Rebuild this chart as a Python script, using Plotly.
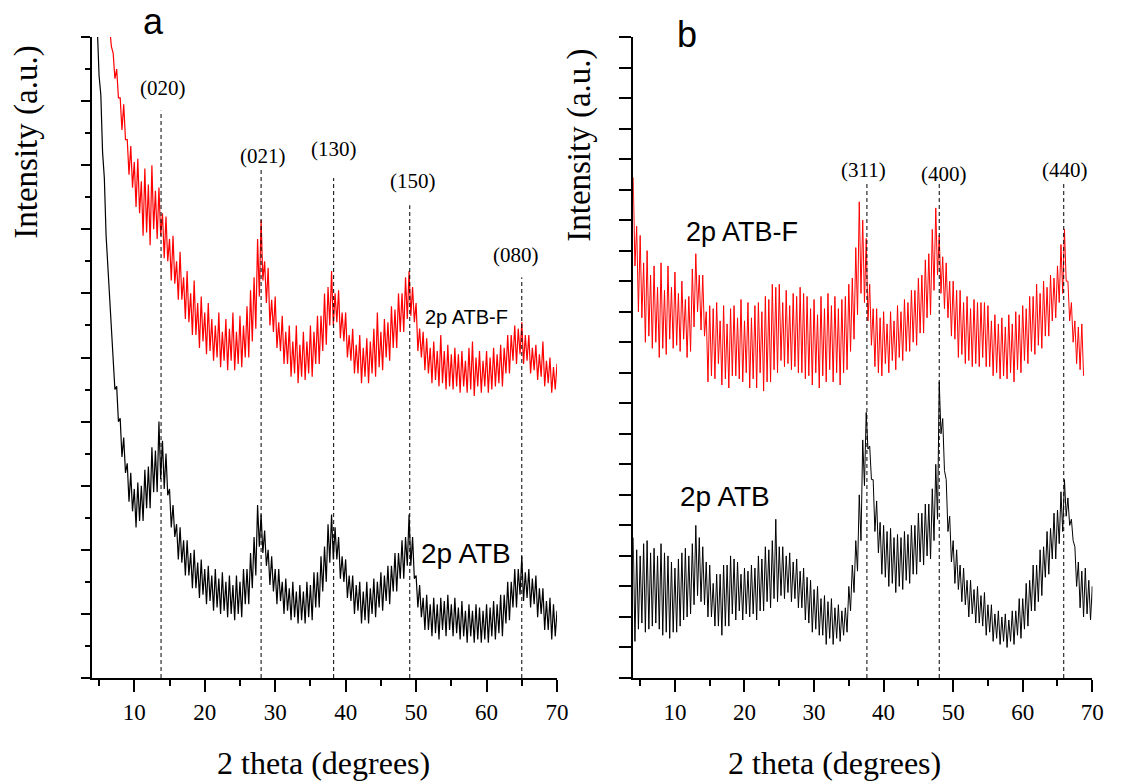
import numpy as np
import plotly.graph_objects as go

# 2 theta grids (degrees), 0.5 deg steps; lower-edge readings sit a quarter step later
theta_a_red = np.arange(6.5, 70.25, 0.5)
theta_a_black = np.arange(4.5, 70.25, 0.5)
theta_b_red = np.arange(4.0, 68.75, 0.5)
theta_b_black = np.arange(4.0, 70.25, 0.5)

# panel a, 2p ATB-F (red): upper / lower edge of the noisy trace
a_red_hi = [20.3, 19.5, 19.0, 18.1, 17.9, 16.8, 16.6, 16.1, 16.2, 15.5,
            15.9, 15.4, 16.0, 15.2, 15.3, 14.5, 14.4, 13.7, 13.8, 13.0,
            13.3, 12.5, 12.7, 12.0, 12.4, 11.7, 11.9, 11.4, 11.7, 11.2,
            11.0, 11.4, 10.8, 11.2, 10.9, 11.4, 10.8, 11.3, 11.0, 11.6,
            12.1, 12.5, 13.7, 14.3, 13.0, 12.8, 11.8, 11.9, 11.1, 11.3,
            10.8, 11.0, 10.5, 11.0, 10.4, 10.8, 10.5, 11.0, 10.8, 11.3,
            11.3, 12.0, 12.2, 12.7, 12.0, 12.1, 11.4, 11.4, 10.7, 10.9,
            10.4, 10.7, 10.3, 10.6, 10.5, 10.9, 11.4, 10.8, 11.2, 11.1,
            11.6, 11.5, 12.0, 12.0, 12.5, 12.7, 12.2, 11.7, 10.9, 10.8,
            10.6, 10.3, 10.5, 10.2, 10.7, 10.2, 10.4, 10.1, 10.3, 10.1,
            10.2, 9.9, 10.3, 10.5, 10.0, 10.2, 9.9, 10.2, 10.0, 10.3,
            10.1, 10.4, 10.3, 10.7, 10.7, 11.0, 10.9, 11.1, 10.7, 10.7,
            10.3, 10.4, 10.1, 10.5, 9.9, 10.0, 9.7, 9.8]
a_red_lo = [19.7, 18.7, 18.1, 17.1, 16.8, 15.7, 15.3, 14.7, 14.5, 13.8,
            13.9, 13.5, 14.0, 13.7, 13.8, 13.1, 13.0, 12.4, 12.3, 11.8,
            11.8, 11.2, 11.1, 10.7, 10.7, 10.3, 10.5, 10.1, 10.2, 9.9,
            10.0, 9.7, 9.9, 9.6, 9.9, 9.6, 9.8, 9.7, 10.0, 10.0,
            10.5, 10.9, 11.9, 12.4, 11.7, 11.0, 10.8, 10.3, 10.2, 9.8,
            9.8, 9.4, 9.5, 9.2, 9.4, 9.3, 9.5, 9.4, 9.8, 9.8,
            10.2, 10.4, 11.0, 11.0, 11.1, 10.6, 10.5, 10.0, 9.9, 9.5,
            9.5, 9.2, 9.4, 9.2, 9.5, 9.4, 9.7, 9.6, 10.0, 9.9,
            10.3, 10.3, 10.8, 10.8, 11.2, 11.3, 11.1, 10.2, 10.0, 9.6,
            9.5, 9.2, 9.3, 9.1, 9.2, 9.0, 9.1, 9.0, 9.1, 8.9,
            9.1, 8.9, 9.0, 8.8, 9.1, 8.9, 9.1, 8.9, 9.0, 9.1,
            9.2, 9.1, 9.5, 9.5, 9.9, 9.8, 10.1, 9.8, 9.9, 9.5,
            9.6, 9.3, 9.4, 9.1, 9.2, 8.9, 9.0, 8.8]

# panel a, 2p ATB (black)
a_blk_hi = [20.5, 18.8, 16.4, 13.8, 11.8, 10.2, 9.1, 8.1, 7.5, 6.7,
            6.4, 5.9, 6.1, 6.0, 6.5, 6.6, 7.2, 7.1, 8.0, 7.4,
            7.0, 5.9, 5.4, 4.8, 4.7, 4.3, 4.3, 3.9, 4.0, 3.6,
            3.7, 3.4, 3.5, 3.2, 3.4, 3.1, 3.3, 3.0, 3.2, 2.9,
            3.2, 3.0, 3.4, 3.4, 3.9, 4.4, 5.4, 5.1, 4.6, 4.0,
            3.8, 3.4, 3.4, 3.0, 3.1, 2.8, 3.0, 2.7, 2.9, 2.7,
            3.0, 2.9, 3.3, 3.3, 3.8, 4.1, 4.8, 5.1, 4.7, 4.4,
            3.8, 3.7, 3.2, 3.2, 2.9, 3.0, 2.7, 3.0, 2.8, 3.1,
            3.0, 3.3, 3.2, 3.5, 3.5, 3.9, 3.9, 4.3, 4.4, 5.1,
            4.4, 3.2, 2.9, 2.5, 2.6, 2.3, 2.5, 2.3, 2.5, 2.4,
            2.6, 2.3, 2.5, 2.2, 2.4, 2.1, 2.3, 2.1, 2.3, 2.2,
            2.1, 2.3, 2.2, 2.4, 2.3, 2.6, 2.6, 3.0, 3.0, 3.4,
            3.4, 3.8, 3.3, 3.4, 3.1, 3.2, 2.8, 2.8, 2.4, 2.5,
            2.3, 2.1]
a_blk_lo = [20.3, 18.2, 15.6, 12.9, 10.9, 9.0, 8.0, 6.9, 6.4, 5.5,
            5.2, 4.7, 4.9, 4.9, 5.3, 5.3, 5.8, 5.8, 6.2, 5.9,
            5.7, 4.7, 4.4, 3.7, 3.6, 3.2, 3.2, 2.8, 2.8, 2.5,
            2.6, 2.3, 2.4, 2.1, 2.2, 2.0, 2.1, 1.9, 2.0, 1.8,
            2.0, 1.9, 2.3, 2.3, 2.8, 3.2, 4.1, 3.9, 3.5, 2.9,
            2.7, 2.3, 2.4, 2.0, 2.1, 1.8, 1.9, 1.7, 1.8, 1.7,
            1.9, 1.8, 2.2, 2.2, 2.7, 3.0, 3.6, 3.7, 3.7, 3.1,
            3.0, 2.5, 2.4, 2.0, 2.1, 1.7, 1.8, 1.7, 2.0, 1.9,
            2.2, 2.1, 2.4, 2.3, 2.7, 2.7, 3.1, 3.1, 3.5, 3.5,
            3.1, 2.2, 1.9, 1.5, 1.5, 1.3, 1.4, 1.2, 1.5, 1.3,
            1.5, 1.3, 1.4, 1.2, 1.3, 1.1, 1.3, 1.1, 1.2, 1.1,
            1.2, 1.1, 1.3, 1.2, 1.4, 1.3, 1.7, 1.8, 2.2, 2.2,
            2.6, 2.4, 2.5, 2.2, 2.3, 1.9, 2.0, 1.5, 1.5, 1.2,
            1.3, 1.1]

# panel b, 2p ATB-F (red)
b_red_hi = [16.4, 14.8, 14.5, 13.6, 14.0, 13.2, 13.5, 12.8, 13.6, 12.7,
            13.5, 12.8, 13.3, 12.6, 13.0, 12.4, 12.5, 13.4, 13.9, 13.2,
            13.2, 12.0, 12.2, 12.1, 12.3, 11.7, 12.2, 11.6, 12.1, 12.2,
            11.8, 12.4, 11.7, 12.3, 11.8, 12.2, 12.3, 12.0, 12.5, 12.4,
            12.9, 12.8, 12.9, 12.3, 12.7, 12.2, 12.6, 12.5, 12.8, 12.6,
            12.5, 12.1, 12.4, 11.9, 12.5, 12.1, 12.6, 12.2, 12.5, 12.1,
            12.4, 12.5, 12.9, 13.1, 14.1, 15.6, 15.0, 14.4, 12.9, 12.1,
            12.1, 11.8, 12.0, 11.6, 12.0, 11.7, 12.2, 12.0, 12.4, 12.3,
            12.7, 12.7, 13.1, 13.2, 13.7, 13.9, 14.7, 15.4, 14.5, 13.8,
            13.6, 13.0, 13.0, 12.7, 12.7, 12.3, 12.5, 12.1, 12.4, 12.3,
            12.3, 12.3, 12.2, 11.7, 11.9, 11.6, 11.8, 11.5, 11.9, 11.6,
            12.0, 11.9, 12.2, 12.1, 12.5, 12.5, 12.9, 12.6, 13.0, 12.8,
            13.2, 13.1, 13.5, 14.2, 14.7, 13.0, 12.3, 11.7, 11.5, 11.6]
b_red_lo = [13.5, 12.0, 11.8, 11.0, 11.2, 10.8, 11.0, 10.5, 10.8, 10.6,
            11.1, 10.8, 10.9, 10.7, 11.1, 10.5, 10.7, 11.5, 12.0, 11.4,
            11.2, 9.7, 9.9, 9.8, 10.3, 9.6, 9.8, 9.5, 9.9, 9.9,
            9.8, 9.7, 10.0, 9.5, 9.8, 9.5, 10.0, 9.4, 9.7, 9.7,
            10.1, 10.0, 10.4, 10.2, 10.3, 10.1, 10.2, 10.0, 10.0, 9.8,
            9.9, 9.6, 10.0, 9.5, 9.9, 9.7, 10.1, 9.7, 10.0, 9.6,
            10.0, 10.1, 10.7, 11.1, 11.9, 12.6, 12.3, 11.7, 10.9, 10.2,
            10.0, 9.9, 10.3, 10.0, 10.4, 10.1, 10.5, 10.4, 10.7, 10.7,
            11.0, 10.9, 11.3, 11.3, 11.8, 11.9, 12.7, 13.2, 12.6, 12.1,
            11.8, 11.2, 11.1, 10.5, 10.6, 10.3, 10.4, 10.2, 10.3, 10.2,
            10.5, 10.2, 10.2, 9.9, 10.0, 9.8, 9.9, 9.8, 10.0, 9.7,
            10.1, 10.0, 10.4, 10.3, 10.7, 10.6, 10.9, 10.8, 11.2, 11.2,
            11.7, 11.8, 12.3, 12.6, 13.0, 11.7, 11.0, 10.3, 10.1, 9.9]

# panel b, 2p ATB (black)
b_blk_hi = [4.6, 4.2, 4.0, 4.4, 4.5, 4.1, 4.25, 4.0, 4.4, 4.1,
            4.0, 3.8, 3.6, 3.9, 4.1, 4.25, 4.0, 4.4, 5.0, 4.6,
            4.3, 3.8, 3.7, 3.1, 3.4, 3.4, 3.7, 3.7, 4.0, 3.9,
            3.8, 3.4, 3.6, 3.5, 3.7, 3.6, 4.0, 3.9, 4.3, 4.2,
            4.5, 5.2, 4.3, 4.3, 4.0, 4.1, 3.8, 3.9, 3.5, 3.6,
            3.3, 3.2, 2.9, 3.0, 2.6, 2.7, 2.5, 2.6, 2.3, 2.4,
            2.2, 2.3, 3.0, 3.7, 4.5, 6.0, 7.8, 8.7, 7.6, 6.5,
            5.8, 5.1, 5.0, 4.8, 4.9, 4.6, 4.7, 4.6, 4.8, 4.7,
            5.0, 5.0, 5.4, 5.4, 5.7, 5.7, 6.2, 7.0, 9.7, 8.5,
            6.5, 5.3, 4.5, 4.2, 3.7, 3.6, 3.2, 3.2, 2.9, 3.0,
            2.7, 2.8, 2.4, 2.4, 2.1, 2.2, 2.0, 2.1, 1.9, 2.2,
            2.2, 2.6, 2.6, 3.1, 3.2, 3.7, 3.7, 4.2, 4.3, 4.8,
            4.9, 5.4, 5.5, 6.1, 6.5, 5.9, 5.2, 4.3, 3.8, 3.5,
            3.6, 3.2, 3.0]
b_blk_lo = [1.2, 1.6, 1.8, 1.5, 1.6, 1.7, 1.8, 1.6, 1.4, 1.5,
            1.3, 1.5, 1.5, 1.7, 1.9, 2.0, 2.1, 2.4, 2.7, 2.5,
            2.4, 2.0, 2.0, 1.7, 1.7, 1.4, 1.7, 1.7, 2.1, 1.9,
            2.2, 1.9, 2.1, 2.0, 2.1, 1.9, 2.2, 2.2, 2.5, 2.3,
            2.6, 2.5, 2.7, 2.6, 2.8, 2.5, 2.6, 2.3, 2.3, 1.9,
            1.8, 1.5, 1.6, 1.4, 1.4, 1.1, 1.3, 1.1, 1.3, 1.2,
            1.4, 1.5, 2.2, 2.8, 3.5, 4.5, 6.3, 7.5, 6.5, 4.8,
            4.1, 3.4, 3.3, 3.0, 3.1, 2.8, 3.0, 2.9, 3.2, 3.1,
            3.4, 3.4, 3.8, 3.7, 4.0, 3.9, 4.5, 5.2, 8.0, 6.8,
            4.8, 3.8, 3.1, 2.9, 2.5, 2.4, 2.0, 2.1, 1.8, 1.8,
            1.7, 1.4, 1.5, 1.2, 1.3, 1.1, 1.2, 1.0, 1.2, 1.1,
            1.4, 1.3, 1.6, 1.7, 2.2, 2.2, 2.5, 2.7, 3.3, 3.4,
            3.9, 3.9, 4.4, 4.8, 5.3, 5.0, 4.5, 3.0, 2.3, 2.0,
            2.1, 1.9, 2.1]

# reflection markers
peaks_a = [13.8, 28.0, 38.3, 49.1, 65.0]
peaks_a_top = [17.7, 15.9, 15.6, 14.75, 12.5]
labels_a = ["(020)", "(021)", "(130)", "(150)", "(080)"]
label_a_x = [14.1, 28.2, 38.3, 49.5, 64.2]
label_a_y = [18.4, 16.3, 16.5, 15.5, 13.2]

peaks_b = [37.6, 48.0, 65.9]
peaks_b_top = [16.2, 16.2, 16.2]
labels_b = ["(311)", "(400)", "(440)"]
label_b_x = [37.1, 48.7, 66.1]
label_b_y = [16.65, 16.5, 16.65]

W, H = 1129, 784
serif = "Liberation Serif, Times New Roman, serif"
sans = "Liberation Sans, Arial, sans-serif"


def zigzag(theta, hi, lo):
    assert len(theta) == len(hi) == len(lo)
    xs, ys = [], []
    for t, h, l in zip(theta, hi, lo):
        xs += [t, t + 0.25]
        ys += [h, l]
    return xs, ys


fig = go.Figure()
for theta, hi, lo, col, ax, lw in [
    (theta_a_red, a_red_hi, a_red_lo, "#ff0000", ("x", "y"), 1.2),
    (theta_a_black, a_blk_hi, a_blk_lo, "#000000", ("x", "y"), 1.2),
    (theta_b_red, b_red_hi, b_red_lo, "#ff0000", ("x2", "y2"), 1),
    (theta_b_black, b_blk_hi, b_blk_lo, "#000000", ("x2", "y2"), 1),
]:
    xs, ys = zigzag(theta, hi, lo)
    fig.add_trace(go.Scatter(x=xs, y=ys, mode="lines", xaxis=ax[0], yaxis=ax[1],
                             line=dict(color=col, width=lw), showlegend=False,
                             hoverinfo="skip"))


def note(xref, yref, x, y, text, family, size, angle=0):
    return dict(xref=xref, yref=yref, x=x, y=y, text=text, showarrow=False,
                xanchor="center", yanchor="middle", textangle=angle,
                font=dict(family=family, size=size, color="black"))


shapes = []
annos = []
for p, top, lab, lx, ly in zip(peaks_a, peaks_a_top, labels_a, label_a_x, label_a_y):
    shapes.append(dict(type="line", xref="x", yref="y", x0=p, x1=p, y0=0, y1=top,
                       line=dict(color="black", width=1, dash="4px,3px")))
    annos.append(note("x", "y", lx, ly, lab, serif, 21))
for p, top, lab, lx, ly in zip(peaks_b, peaks_b_top, labels_b, label_b_x, label_b_y):
    shapes.append(dict(type="line", xref="x2", yref="y2", x0=p, x1=p, y0=0, y1=top,
                       line=dict(color="black", width=1, dash="4px,3px")))
    annos.append(note("x2", "y2", lx, ly, lab, serif, 21))

# sample names
annos += [
    note("x", "y", 57.1, 11.26, "2p ATB-F", sans, 20),
    note("x", "y", 57.1, 3.9, "2p ATB", sans, 28),
    note("x2", "y2", 19.6, 14.6, "2p ATB-F", sans, 27),
    note("x2", "y2", 17.2, 5.93, "2p ATB", sans, 28),
]


def px(x, y):
    return x / W, 1 - y / H


# panel letters and axis titles
for txt, (x, y), fnt, size, ang in [
    ("a", px(155, 22), sans, 36, 0),
    ("b", px(694, 35), sans, 36, 0),
    ("Intensity (a.u.)", px(26, 142), serif, 33, -90),
    ("Intensity (a.u.)", px(585, 145), serif, 33, -90),
    ("2 theta (degrees)", px(327, 763), serif, 32, 0),
    ("2 theta (degrees)", px(843, 763), serif, 32, 0),
]:
    annos.append(note("paper", "paper", x, y, txt, fnt, size, ang))

xcommon = dict(range=[4, 70], showgrid=False, zeroline=False, showline=True,
               linecolor="black", linewidth=2, ticks="outside", tickwidth=2,
               ticklen=12, tickcolor="black", tick0=0, dtick=10,
               tickfont=dict(family=serif, size=23, color="black"),
               minor=dict(ticks="outside", ticklen=6, tickwidth=2, tickcolor="black",
                          tick0=0, dtick=5))
ycommon = dict(showgrid=False, zeroline=False, showline=True, linecolor="black",
               linewidth=2, ticks="outside", tickwidth=2, tickcolor="black",
               showticklabels=False, tick0=0)

ydom = [1 - 678 / H, 1 - 37 / H]
fig.update_layout(
    width=W, height=H, margin=dict(l=0, r=0, t=0, b=0),
    paper_bgcolor="white", plot_bgcolor="white", showlegend=False,
    xaxis=dict(domain=[93 / W, 563 / W], anchor="y", **xcommon),
    yaxis=dict(domain=ydom, anchor="x", range=[0, 20], dtick=2, ticklen=9,
               minor=dict(ticks="outside", ticklen=5, tickwidth=2, tickcolor="black",
                          tick0=0, dtick=1), **ycommon),
    xaxis2=dict(domain=[640 / W, 1104 / W], anchor="y2", **xcommon),
    yaxis2=dict(domain=ydom, anchor="x2", range=[0, 21], dtick=1, ticklen=12,
                **ycommon),
    shapes=shapes, annotations=annos,
)

fig.write_html("out.html", config={"displayModeBar": False},
               post_script="document.body.style.margin='0';"
                           "document.body.style.overflow='hidden';")
